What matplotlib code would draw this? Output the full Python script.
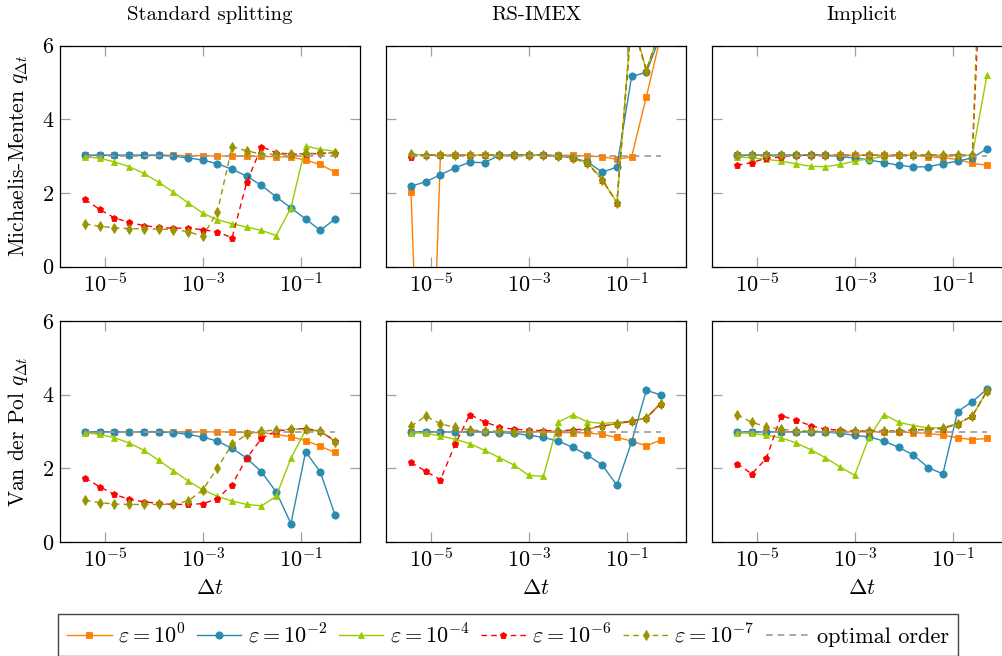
import matplotlib
matplotlib.use("Agg")
import matplotlib.pyplot as plt

plt.rcParams['font.family'] = ['cmr10', 'DejaVu Serif']
plt.rcParams['mathtext.fontset'] = 'cm'
plt.rcParams['axes.formatter.use_mathtext'] = True
plt.rcParams['axes.unicode_minus'] = False

# step sizes
dt = [3.815e-6, 7.629e-6, 1.526e-5, 3.052e-5, 6.104e-5, 1.221e-4, 2.441e-4, 4.883e-4,
      9.766e-4, 1.953e-3, 3.906e-3, 7.813e-3, 1.563e-2, 3.125e-2, 6.25e-2, 0.125, 0.25, 0.5]

# Michaelis-Menten, standard splitting
mm_split_e0 = [3.02, 3.02, 3.02, 3.02, 3.02, 3.02, 3.02, 3.01, 3.01, 3.0, 3.0, 2.99, 2.99, 2.98, 2.97, 2.89, 2.77, 2.56]
mm_split_e2 = [3.02, 3.02, 3.02, 3.02, 3.02, 3.02, 3.0, 2.95, 2.89, 2.79, 2.64, 2.45, 2.2, 1.89, 1.59, 1.29, 0.98, 1.29]
mm_split_e4 = [2.98, 2.94, 2.84, 2.71, 2.53, 2.29, 2.02, 1.73, 1.45, 1.27, 1.16, 1.07, 0.98, 0.84, 1.59, 3.27, 3.18, 3.13]
mm_split_e6 = [1.82, 1.55, 1.32, 1.2, 1.11, 1.06, 1.04, 1.04, 1.0, 0.94, 0.78, 2.29, 3.25, 3.09, 3.05, 3.05, 3.07, 3.09]
mm_split_e7 = [1.16, 1.09, 1.05, 1.03, 1.02, 1.02, 1.0, 0.95, 0.82, 1.48, 3.25, 3.14, 3.05, 3.05, 3.05, 3.07, 3.07, 3.09]

# Michaelis-Menten, RS-IMEX
mm_imex_e0 = [2.02, -9.0, 3.02, 3.02, 3.02, 3.02, 3.02, 3.02, 3.02, 3.02, 3.02, 3.02, 3.0, 2.98, 2.91, 2.98, 4.6, 6.3]
mm_imex_e2 = [2.18, 2.3, 2.49, 2.68, 2.83, 2.82, 3.02, 3.02, 3.02, 3.02, 3.0, 2.95, 2.84, 2.56, 2.7, 5.16, 5.27, 6.3]
mm_imex_e4 = [3.05, 3.02, 3.02, 3.02, 3.02, 3.02, 3.02, 3.02, 3.02, 3.02, 3.0, 2.95, 2.82, 2.36, 1.73, 6.8, 5.32, 6.5]
mm_imex_e6 = [2.98, 3.02, 3.02, 3.02, 3.02, 3.02, 3.02, 3.02, 3.02, 3.02, 3.0, 2.95, 2.8, 2.36, 1.73, 6.7, 5.32, 6.5]
mm_imex_e7 = [3.05, 3.03, 3.02, 3.02, 3.02, 3.02, 3.02, 3.02, 3.02, 3.02, 3.0, 2.95, 2.8, 2.36, 1.73, 6.7, 5.32, 6.5]

# Michaelis-Menten, implicit
mm_impl_e0 = [3.02, 3.02, 3.02, 3.02, 3.02, 3.02, 3.02, 3.02, 3.02, 3.02, 3.02, 3.02, 3.02, 2.98, 2.95, 2.91, 2.8, 2.75]
mm_impl_e2 = [3.02, 3.02, 3.02, 3.02, 3.02, 3.02, 3.02, 2.98, 2.95, 2.89, 2.82, 2.75, 2.7, 2.71, 2.79, 2.86, 2.95, 3.2]
mm_impl_e4 = [2.98, 2.95, 2.91, 2.86, 2.79, 2.72, 2.71, 2.77, 2.86, 2.93, 2.98, 3.02, 3.02, 3.02, 3.02, 3.02, 3.02, 5.2]
mm_impl_e6 = [2.75, 2.82, 2.94, 2.97, 3.02, 3.02, 3.02, 3.02, 3.02, 3.02, 3.02, 3.02, 3.02, 3.02, 3.02, 3.02, 3.02, 12.0]
mm_impl_e7 = [3.03, 3.02, 3.02, 3.02, 3.02, 3.02, 3.02, 3.02, 3.02, 3.02, 3.02, 3.02, 3.02, 3.02, 3.02, 3.02, 3.02, 14.0]

# Van der Pol, standard splitting
vdp_split_e0 = [2.99, 2.99, 2.99, 2.99, 2.99, 2.99, 2.99, 2.99, 2.99, 2.99, 2.99, 2.97, 2.97, 2.92, 2.86, 2.75, 2.6, 2.43]
vdp_split_e2 = [2.99, 2.99, 2.99, 2.99, 2.99, 2.99, 2.97, 2.92, 2.85, 2.74, 2.54, 2.28, 1.9, 1.36, 0.5, 2.45, 1.9, 0.73]
vdp_split_e4 = [2.97, 2.92, 2.83, 2.69, 2.49, 2.22, 1.94, 1.66, 1.42, 1.24, 1.11, 1.02, 0.98, 1.24, 2.27, 3.04, 3.01, 2.74]
vdp_split_e6 = [1.74, 1.5, 1.29, 1.16, 1.09, 1.05, 1.02, 1.02, 1.04, 1.17, 1.56, 2.28, 2.81, 3.01, 3.06, 3.08, 3.01, 2.74]
vdp_split_e7 = [1.13, 1.07, 1.03, 1.02, 1.02, 1.02, 1.03, 1.11, 1.41, 2.01, 2.65, 2.92, 3.01, 3.04, 3.06, 3.08, 3.01, 2.72]

# Van der Pol, RS-IMEX
vdp_imex_e0 = [2.99, 2.99, 2.99, 2.99, 2.99, 2.99, 2.99, 2.99, 2.99, 2.99, 2.97, 2.97, 2.96, 2.92, 2.84, 2.74, 2.61, 2.77]
vdp_imex_e2 = [2.99, 2.99, 2.99, 2.99, 2.99, 2.99, 2.97, 2.95, 2.9, 2.84, 2.74, 2.57, 2.36, 2.09, 1.54, 2.72, 4.12, 3.99]
vdp_imex_e4 = [2.97, 2.95, 2.88, 2.79, 2.67, 2.49, 2.29, 2.09, 1.81, 1.78, 3.25, 3.45, 3.26, 3.22, 3.25, 3.28, 3.37, 3.79]
vdp_imex_e6 = [2.16, 1.92, 1.69, 2.65, 3.46, 3.26, 3.12, 3.06, 3.04, 3.02, 3.02, 3.04, 3.08, 3.15, 3.21, 3.28, 3.37, 3.76]
vdp_imex_e7 = [3.14, 3.42, 3.21, 3.11, 3.04, 3.01, 3.01, 2.99, 2.99, 2.99, 3.01, 3.02, 3.06, 3.15, 3.21, 3.28, 3.37, 3.76]

# Van der Pol, implicit
vdp_impl_e0 = [2.99, 2.99, 2.99, 2.99, 2.99, 2.99, 2.99, 2.99, 2.99, 2.99, 2.99, 2.99, 2.97, 2.95, 2.9, 2.83, 2.78, 2.81]
vdp_impl_e2 = [2.99, 2.99, 2.99, 2.99, 2.99, 2.99, 2.99, 2.95, 2.9, 2.85, 2.74, 2.57, 2.36, 2.02, 1.85, 3.54, 3.81, 4.15]
vdp_impl_e4 = [2.97, 2.95, 2.9, 2.83, 2.69, 2.51, 2.29, 2.04, 1.81, 2.86, 3.46, 3.25, 3.16, 3.1, 3.1, 3.21, 3.42, 4.1]
vdp_impl_e6 = [2.13, 1.85, 2.27, 3.43, 3.31, 3.16, 3.06, 3.04, 3.01, 3.01, 3.01, 3.01, 3.04, 3.06, 3.08, 3.21, 3.42, 4.1]
vdp_impl_e7 = [3.45, 3.25, 3.13, 3.06, 3.02, 3.01, 3.01, 3.01, 3.01, 3.01, 3.01, 3.01, 3.03, 3.06, 3.1, 3.21, 3.42, 4.1]

titles = ['Standard splitting', 'RS-IMEX', 'Implicit']
row_labels = [r'Michaelis-Menten $q_{\Delta t}$', r'Van der Pol $q_{\Delta t}$']
labels = [r'$\varepsilon = 10^{0}$', r'$\varepsilon = 10^{-2}$', r'$\varepsilon = 10^{-4}$',
          r'$\varepsilon = 10^{-6}$', r'$\varepsilon = 10^{-7}$']

panels = [
    [[mm_split_e0, mm_split_e2, mm_split_e4, mm_split_e6, mm_split_e7],
     [mm_imex_e0, mm_imex_e2, mm_imex_e4, mm_imex_e6, mm_imex_e7],
     [mm_impl_e0, mm_impl_e2, mm_impl_e4, mm_impl_e6, mm_impl_e7]],
    [[vdp_split_e0, vdp_split_e2, vdp_split_e4, vdp_split_e6, vdp_split_e7],
     [vdp_imex_e0, vdp_imex_e2, vdp_imex_e4, vdp_imex_e6, vdp_imex_e7],
     [vdp_impl_e0, vdp_impl_e2, vdp_impl_e4, vdp_impl_e6, vdp_impl_e7]],
]

colors = ['#ff8000', '#2a8ab0', '#99cc00', '#ff0000', '#999400']
markers = ['s', 'o', '^', 'p', 'd']
msizes = [4.5, 5.2, 5.0, 5.0, 4.6]
dashed = (0, (4, 3))
styles = ['-', '-', '-', dashed, dashed]

W, H = 1003, 656
fig = plt.figure(figsize=(W / 100, H / 100), dpi=100)

lefts = [60, 386, 712]
tops = [45.5, 321]
aw, ah = 300, 221

handles = []
for r in range(2):
    for c in range(3):
        ax = fig.add_axes([lefts[c] / W, 1 - (tops[r] + ah) / H, aw / W, ah / H])
        for k in range(5):
            ln, = ax.plot(dt, panels[r][c][k], color=colors[k], marker=markers[k],
                          markersize=msizes[k], linestyle=styles[k], linewidth=1.0,
                          markeredgewidth=0.6, markeredgecolor=colors[k])
            if r == 0 and c == 0:
                handles.append(ln)
        opt, = ax.plot([dt[0], dt[-1]], [3, 3], color='#9a9a9a', linestyle=dashed, linewidth=1.2)
        if r == 0 and c == 0:
            handles.append(opt)
        ax.set_xscale('log')
        ax.set_xlim(10 ** -5.93, 10 ** 0.21)
        ax.set_ylim(0, 6)
        ax.set_xticks([1e-5, 1e-3, 1e-1])
        ax.xaxis.set_minor_locator(matplotlib.ticker.NullLocator())
        ax.set_yticks([0, 2, 4, 6])
        ax.tick_params(direction='in', length=7, width=0.9, color='#a0a0a0',
                       top=True, right=True, labelsize=16, pad=4)
        if c > 0:
            ax.set_yticklabels([])
        for s in ax.spines.values():
            s.set_linewidth(0.9)
        if r == 0:
            ax.set_title(titles[c], fontsize=15, pad=18)
        else:
            ax.set_xlabel(r'$\Delta t$', fontsize=16, labelpad=5)

for r in range(2):
    fig.text(18 / W, 1 - (tops[r] + ah / 2) / H, row_labels[r], rotation=90,
             ha='center', va='center', fontsize=15.5)

fig.legend(handles, labels + ['optimal order'], loc='upper center',
           bbox_to_anchor=(508 / W, 1 - 614 / H), ncol=6, fontsize=16,
           frameon=True, fancybox=False, edgecolor='#444444', framealpha=1,
           handlelength=2.0, handletextpad=0.3, columnspacing=0.5, borderpad=0.4,
           borderaxespad=0)

fig.savefig('out.png', dpi=100)
